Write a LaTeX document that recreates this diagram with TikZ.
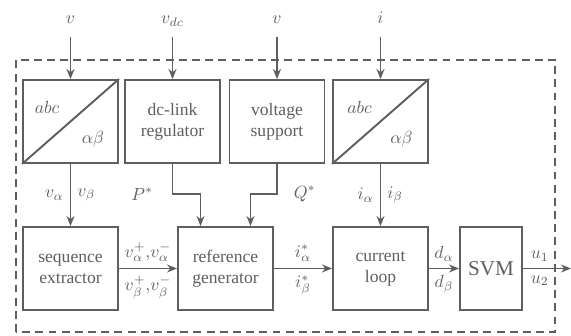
\documentclass[tikz,border=0pt]{standalone}
\usepackage{fontspec}
\setmainfont{Liberation Serif}
\usepackage{amsmath}
\usetikzlibrary{calc,positioning,arrows.meta}
\definecolor{diagray}{HTML}{5E5E5E}

\begin{document}
\begin{tikzpicture}[line width=1.1pt, color=diagray, font=\rmfamily,
  blk/.style={draw, align=center, minimum width=1.9cm, minimum height=1.66cm, inner sep=1pt},
  sig/.style={anchor=base, text depth=0pt},
  lbl/.style={inner xsep=1pt, inner ysep=3.5pt},
  ctrlbox/.style={dash pattern=on 4.5pt off 3pt},
  >={Stealth[length=2mm, width=1.6mm]}]
\useasboundingbox (0,0) rectangle (11.42,6.72);
\draw[ctrlbox] (0.32,0.08) rectangle (11.1,5.52);
\node[blk] (abcv) at (1.41,4.29) {};
\node[blk] (dclink) at (3.45,4.29) {dc-link\\regulator};
\node[blk] (vsup) at (5.54,4.29) {voltage\\support};
\node[blk] (abci) at (7.61,4.29) {};
\node[blk] (seq) at (1.41,1.35) {sequence\\extractor};
\node[blk] (refgen) at (4.51,1.35) {reference\\generator};
\node[blk] (cloop) at (7.61,1.35) {current\\loop};
\node[blk, minimum width=1.24cm, font=\large] (svm) at (9.82,1.35) {SVM};
\draw (abcv.south west) -- (abcv.north east);
\draw (abci.south west) -- (abci.north east);
\node (abcvt) at ([shift={(0.5,-0.56)}]abcv.north west) {$abc$};
\node (abcvb) at ([shift={(-0.52,0.5)}]abcv.south east) {$\alpha\beta$};
\node (abcit) at ([shift={(0.55,-0.56)}]abci.north west) {$abc$};
\node (abcib) at ([shift={(-0.55,0.5)}]abci.south east) {$\alpha\beta$};
\node[sig] (inv) at (1.41,6.25) {$v$};
\node[sig] (invdc) at (3.45,6.25) {$v_{dc}$};
\node[sig] (invs) at (5.54,6.25) {$v$};
\node[sig] (ini) at (7.61,6.25) {$i$};
\draw[->] ([yshift=-4pt]inv.south) -- (abcv);
\draw[->] ([yshift=-4pt]invdc.south) -- (dclink);
\draw[->] ([yshift=-4pt]invs.south) -- (vsup);
\draw[->] ([yshift=-4pt]ini.south) -- (abci);
\draw[->] (abcv) -- node[left] (lva) {$v_\alpha$} node[right] (lvb) {$v_\beta$} (seq);
\draw[->] (abci) -- node[left] (lia) {$i_\alpha$} node[right] (lib) {$i_\beta$} (cloop);
\draw[->] (dclink.south) -- ++(0,-0.6) node[left=0.25cm] (lp) {$P^*$} -| ([xshift=-0.5cm]refgen.north);
\draw[->] (vsup.south) -- ++(0,-0.6) node[right=0.2cm] (lq) {$Q^*$} -| ([xshift=0.5cm]refgen.north);
\draw[->] (seq) -- node[lbl, above] (lvp) {$v_\alpha^+{,}v_\alpha^-$} node[lbl, below] (lvm) {$v_\beta^+{,}v_\beta^-$} (refgen);
\draw[->] (refgen) -- node[lbl, above] (lira) {$i_\alpha^*$} node[lbl, below] (lirb) {$i_\beta^*$} (cloop);
\draw[->] (cloop) -- node[lbl, above] (lda) {$d_\alpha$} node[lbl, below] (ldb) {$d_\beta$} (svm);
\coordinate (out) at (11.42,1.35);
\draw[->] (svm) -- node[lbl, pos=0.35, above] (lu1) {$u_1$} node[lbl, pos=0.35, below] (lu2) {$u_2$} (out);
\end{tikzpicture}
\end{document}
